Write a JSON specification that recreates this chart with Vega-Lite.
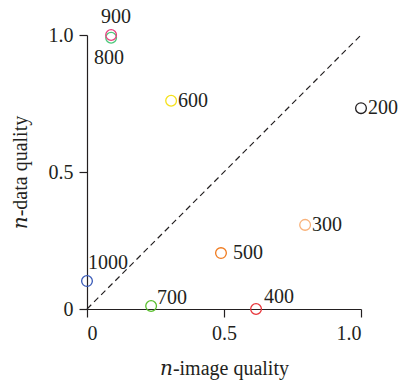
{
  "$schema": "https://vega.github.io/schema/vega-lite/v6.json",
  "autosize": "none",
  "width": 274,
  "height": 274,
  "padding": {"left": 87, "top": 35, "right": 40, "bottom": 72},
  "background": "white",
  "config": {
    "view": {"stroke": null},
    "axis": {
      "grid": false,
      "domainColor": "#231f20",
      "tickColor": "#231f20",
      "domainWidth": 1.2,
      "tickWidth": 1.2,
      "tickSize": 8,
      "labelFontSize": 20,
      "labelColor": "#231f20",
      "titleFontSize": 20,
      "titleFontWeight": "normal",
      "titleColor": "#231f20"
    }
  },
  "datasets": {
    "pts": [
      {"label": "800", "x": 0.088, "y": 0.99},
      {"label": "900", "x": 0.088, "y": 1.0},
      {"label": "600", "x": 0.307, "y": 0.76},
      {"label": "200", "x": 1.0, "y": 0.733},
      {"label": "300", "x": 0.796, "y": 0.307},
      {"label": "500", "x": 0.489, "y": 0.204},
      {"label": "1000", "x": 0.0, "y": 0.102},
      {"label": "700", "x": 0.234, "y": 0.011},
      {"label": "400", "x": 0.617, "y": 0.0}
    ],
    "diag": [{"x": 0, "y": 0}, {"x": 1, "y": 1}]
  },
  "layer": [
    {
      "data": {"name": "diag"},
      "mark": {"type": "line", "color": "#231f20", "strokeWidth": 1.2, "strokeDash": [6, 4]},
      "encoding": {
        "x": {"field": "x", "type": "quantitative", "scale": {"domain": [0, 1], "nice": false},
          "axis": {"values": [0, 0.5, 1], "labelExpr": "datum.value == 0 ? '0' : format(datum.value, '.1f')", "labelPadding": 6, "labelFont": "Liberation Serif", "titleFont": "Liberation Serif, DejaVu Serif", "title": "𝑛-image quality", "titlePadding": 15}},
        "y": {"field": "y", "type": "quantitative", "scale": {"domain": [0, 1], "nice": false},
          "axis": {"values": [0, 0.5, 1], "labelExpr": "datum.value == 0 ? '0' : format(datum.value, '.1f')", "labelPadding": 6, "labelFont": "Liberation Serif", "titleFont": "Liberation Serif, DejaVu Serif", "title": "𝑛-data quality", "titlePadding": 18}}
      }
    },
    {
      "data": {"name": "pts"},
      "mark": {"type": "point", "shape": "circle", "filled": false, "size": 115, "strokeWidth": 1.3, "opacity": 1},
      "encoding": {
        "x": {"field": "x", "type": "quantitative"},
        "y": {"field": "y", "type": "quantitative"},
        "color": {"field": "label", "type": "nominal", "legend": null,
          "scale": {"domain": ["200", "300", "400", "500", "600", "700", "800", "900", "1000"],
                    "range": ["#231f20", "#f9b27a", "#e8353a", "#f07b1f", "#f5e11a", "#5abf2e", "#4cc87a", "#e8407f", "#3a5bb8"]}}
      }
    },
    {
      "data": {"name": "pts"},
      "transform": [{"filter": "indexof(['600','200','300'], datum.label) >= 0"}],
      "mark": {"type": "text", "align": "left", "baseline": "middle", "dx": 7, "fontSize": 20, "color": "#231f20", "font": "Liberation Serif"},
      "encoding": {"x": {"field": "x", "type": "quantitative"}, "y": {"field": "y", "type": "quantitative"}, "text": {"field": "label"}}
    },
    {
      "data": {"name": "pts"},
      "transform": [{"filter": "datum.label == '500'"}],
      "mark": {"type": "text", "align": "left", "baseline": "middle", "dx": 12, "fontSize": 20, "color": "#231f20", "font": "Liberation Serif"},
      "encoding": {"x": {"field": "x", "type": "quantitative"}, "y": {"field": "y", "type": "quantitative"}, "text": {"field": "label"}}
    },
    {
      "data": {"name": "pts"},
      "transform": [{"filter": "datum.label == '900'"}],
      "mark": {"type": "text", "align": "center", "baseline": "middle", "dx": 5, "dy": -18, "fontSize": 20, "color": "#231f20", "font": "Liberation Serif"},
      "encoding": {"x": {"field": "x", "type": "quantitative"}, "y": {"field": "y", "type": "quantitative"}, "text": {"field": "label"}}
    },
    {
      "data": {"name": "pts"},
      "transform": [{"filter": "datum.label == '800'"}],
      "mark": {"type": "text", "align": "center", "baseline": "middle", "dx": -2, "dy": 20, "fontSize": 20, "color": "#231f20", "font": "Liberation Serif"},
      "encoding": {"x": {"field": "x", "type": "quantitative"}, "y": {"field": "y", "type": "quantitative"}, "text": {"field": "label"}}
    },
    {
      "data": {"name": "pts"},
      "transform": [{"filter": "datum.label == '1000'"}],
      "mark": {"type": "text", "align": "left", "baseline": "middle", "dx": 1, "dy": -18, "fontSize": 20, "color": "#231f20", "font": "Liberation Serif"},
      "encoding": {"x": {"field": "x", "type": "quantitative"}, "y": {"field": "y", "type": "quantitative"}, "text": {"field": "label"}}
    },
    {
      "data": {"name": "pts"},
      "transform": [{"filter": "datum.label == '700'"}],
      "mark": {"type": "text", "align": "left", "baseline": "middle", "dx": 6, "dy": -8, "fontSize": 20, "color": "#231f20", "font": "Liberation Serif"},
      "encoding": {"x": {"field": "x", "type": "quantitative"}, "y": {"field": "y", "type": "quantitative"}, "text": {"field": "label"}}
    },
    {
      "data": {"name": "pts"},
      "transform": [{"filter": "datum.label == '400'"}],
      "mark": {"type": "text", "align": "left", "baseline": "middle", "dx": 8, "dy": -12, "fontSize": 20, "color": "#231f20", "font": "Liberation Serif"},
      "encoding": {"x": {"field": "x", "type": "quantitative"}, "y": {"field": "y", "type": "quantitative"}, "text": {"field": "label"}}
    }
  ]
}
